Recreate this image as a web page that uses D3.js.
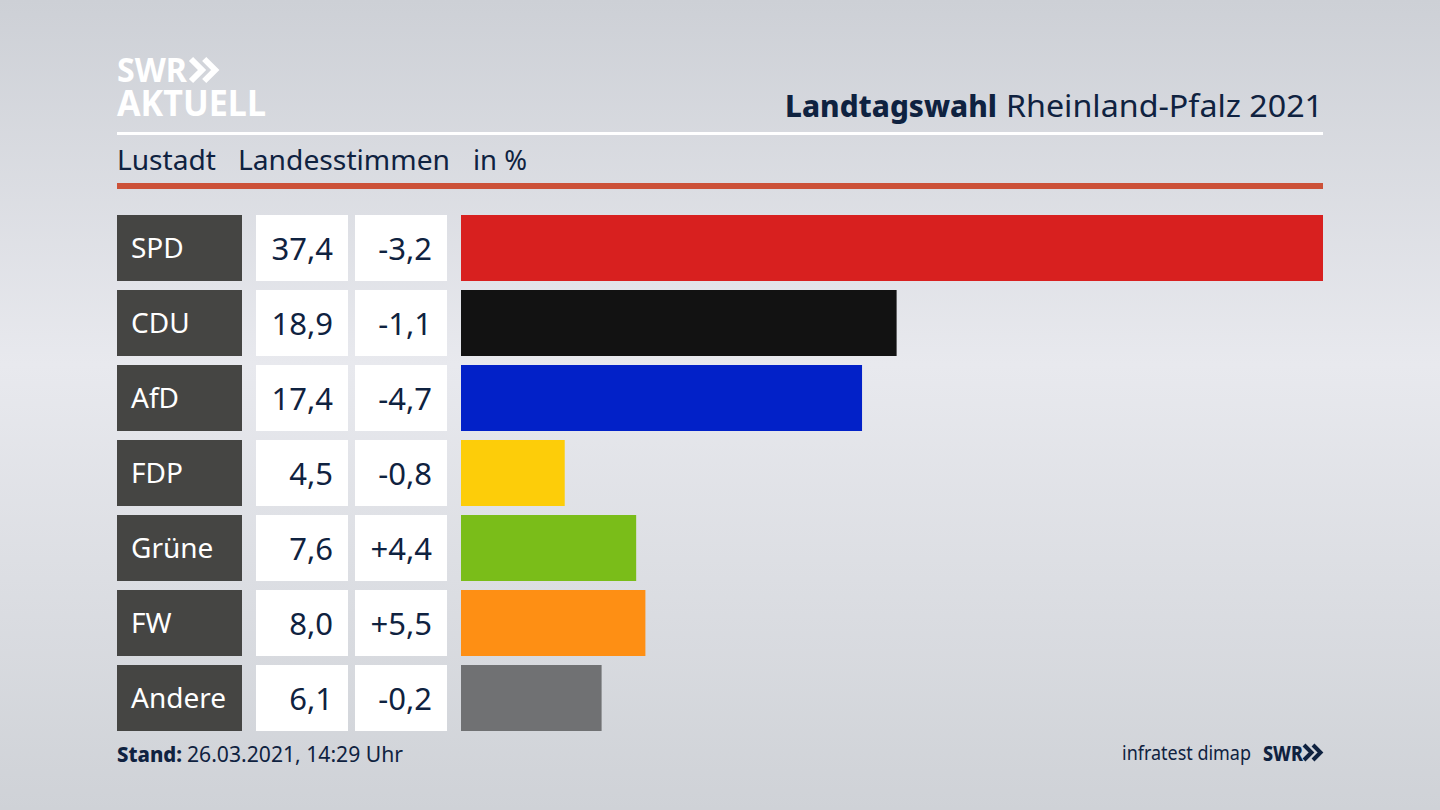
<!DOCTYPE html>
<html>
<head>
<meta charset="utf-8">
<script src="https://cdnjs.cloudflare.com/ajax/libs/d3/7.8.5/d3.min.js"></script>
<style>
  html, body { margin: 0; padding: 0; background: #d8dbe0; overflow: hidden; }
  text { font-family: "Noto Sans", sans-serif; }
</style>
</head>
<body>
<main></main>
<script>
// chart values
const parties = ["SPD", "CDU", "AfD", "FDP", "Grüne", "FW", "Andere"];
const shares = [37.4, 18.9, 17.4, 4.5, 7.6, 8.0, 6.1];
const changes = ["-3,2", "-1,1", "-4,7", "-0,8", "+4,4", "+5,5", "-0,2"];
const barColors = ["#d8201f", "#121212", "#0221c8", "#fdcd09", "#7abd19", "#fe8f14", "#707173"];

const width = 1440;
const height = 810;
const navy = "#0f2240";
const deFormat = v => v.toFixed(1).replace(".", ",");

const svg = d3.select("main")
  .append("svg")
  .attr("width", width)
  .attr("height", height)
  .style("display", "block");

// background
const grad = svg.append("defs").append("linearGradient")
  .attr("id", "bg")
  .attr("x1", 0).attr("y1", 0).attr("x2", 0).attr("y2", 1);
grad.append("stop").attr("offset", "0").attr("stop-color", "#cdd0d6");
grad.append("stop").attr("offset", "0.45").attr("stop-color", "#e8e9ee");
grad.append("stop").attr("offset", "1").attr("stop-color", "#cfd2d7");

svg.append("rect")
  .attr("width", width)
  .attr("height", height)
  .attr("fill", "url(#bg)");

// scales
const xScale = d3.scaleLinear()
  .domain([0, d3.max(shares)])
  .range([461, 1323]);

const yScale = d3.scaleBand()
  .domain(parties)
  .range([215, 731])
  .paddingInner(9 / 75);

// text squeezed or stretched to the width it has in the reference
function label(str, x, y, size, weight, fill, len) {
  return svg.append("text")
    .text(str)
    .attr("x", x).attr("y", y)
    .attr("font-size", size)
    .attr("font-weight", weight)
    .attr("textLength", len)
    .attr("lengthAdjust", "spacingAndGlyphs")
    .attr("fill", fill);
}

// double chevron of the logos
function chevrons(x, y, size, color) {
  [0, 0.6].forEach(off => {
    svg.append("path")
      .attr("d", `M${x + off * size},${y} L${x + (off + 0.5) * size},${y + size / 2} L${x + off * size},${y + size}`)
      .attr("fill", "none")
      .attr("stroke", color)
      .attr("stroke-width", size * 0.27);
  });
}

// logo top left, one text so the two lines stay together
const logo = svg.append("text")
  .attr("font-weight", 700)
  .attr("fill", "#fff");
logo.append("tspan")
  .text("SWR")
  .attr("x", 117).attr("y", 82)
  .attr("font-size", 34)
  .attr("textLength", 70)
  .attr("lengthAdjust", "spacingAndGlyphs");
logo.append("tspan")
  .text("AKTUELL")
  .attr("x", 117).attr("y", 116)
  .attr("font-size", 36)
  .attr("textLength", 149)
  .attr("lengthAdjust", "spacingAndGlyphs");
chevrons(191, 59, 22, "#fff");

// title
label("Landtagswahl", 785, 117, 31, 800, navy, 212);
label("Rheinland-Pfalz 2021", 1006, 117, 31, 400, navy, 317);

// rules
svg.append("rect").attr("x", 117).attr("y", 132).attr("width", 1206).attr("height", 3).attr("fill", "#fff");
svg.append("rect").attr("x", 117).attr("y", 183).attr("width", 1206).attr("height", 6).attr("fill", "#cc5138");

// subtitle
label("Lustadt", 117, 170, 28, 400, navy, 99);
label("Landesstimmen", 238, 170, 28, 400, navy, 212);
label("in %", 473, 170, 28, 400, navy, 54);

// rows
const rows = svg.selectAll("g.row")
  .data(parties)
  .enter()
  .append("g")
  .attr("class", "row")
  .attr("transform", d => "translate(0," + yScale(d) + ")");

const band = yScale.bandwidth();

rows.append("rect")
  .attr("x", 117).attr("width", 125).attr("height", band)
  .attr("fill", "#454543");

rows.append("text")
  .text(d => d)
  .attr("x", 131).attr("y", band / 2 + 10)
  .attr("font-size", 28)
  .attr("fill", "#fff");

rows.append("rect")
  .attr("x", 256).attr("width", 92).attr("height", band)
  .attr("fill", "#fff");

rows.append("text")
  .text((d, i) => deFormat(shares[i]))
  .attr("x", 333).attr("y", band / 2 + 12)
  .attr("text-anchor", "end")
  .attr("font-size", 31)
  .attr("fill", navy);

rows.append("rect")
  .attr("x", 355).attr("width", 92).attr("height", band)
  .attr("fill", "#fff");

rows.append("text")
  .text((d, i) => changes[i])
  .attr("x", 432).attr("y", band / 2 + 12)
  .attr("text-anchor", "end")
  .attr("font-size", 31)
  .attr("fill", navy);

rows.append("rect")
  .attr("x", xScale(0))
  .attr("width", (d, i) => xScale(shares[i]) - xScale(0))
  .attr("height", band)
  .attr("fill", (d, i) => barColors[i]);

// footer
label("Stand:", 117, 762, 22, 800, navy, 65);
label("26.03.2021, 14:29 Uhr", 187, 762, 22, 400, navy, 216);
label("infratest dimap", 1122, 760, 19, 400, navy, 129);
label("SWR", 1263, 761, 22, 800, navy, 40);
chevrons(1304, 745, 15, navy);
</script>
</body>
</html>
